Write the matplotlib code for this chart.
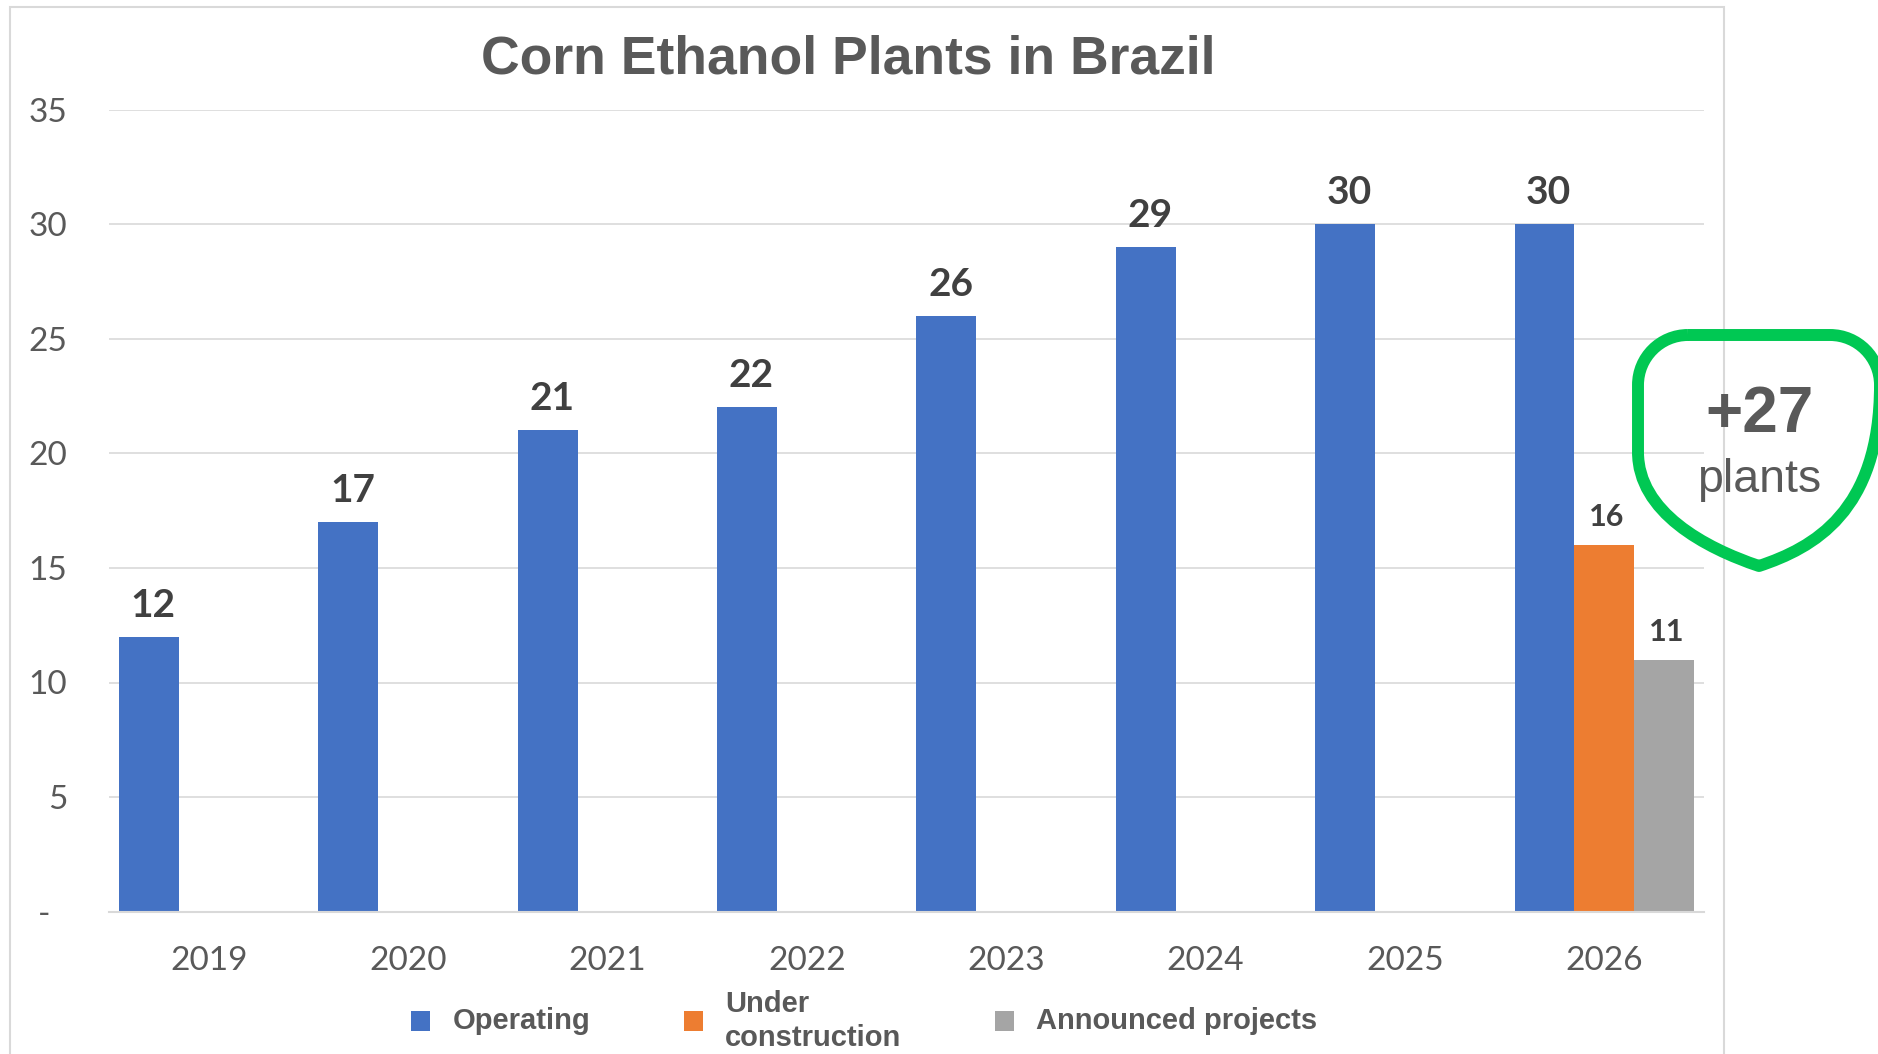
import matplotlib
matplotlib.use('Agg')
import matplotlib.pyplot as plt
from matplotlib.patches import PathPatch, Rectangle
from matplotlib.path import Path
import numpy as np

# ---------------- data ----------------
years = ['2019', '2020', '2021', '2022', '2023', '2024', '2025', '2026']
operating = [12, 17, 21, 22, 26, 29, 30, 30]
under_construction = [np.nan, np.nan, np.nan, np.nan, np.nan, np.nan, np.nan, 16]
announced = [np.nan, np.nan, np.nan, np.nan, np.nan, np.nan, np.nan, 11]
series_names = ['Operating', 'Under\nconstruction', 'Announced projects']
y_ticks = [0, 5, 10, 15, 20, 25, 30, 35]
y_tick_labels = ['-  ', '5', '10', '15', '20', '25', '30', '35']
title = 'Corn Ethanol Plants in Brazil'
badge_value = '+27'
badge_unit = 'plants'

# ---------------- style ----------------
W, H = 1878, 1054
C_BLUE, C_ORANGE, C_GRAY = '#4472C4', '#ED7D31', '#A5A5A5'
C_TEXT = '#595959'
C_LABEL = '#404040'
C_GRID = '#D9D9D9'
C_GREEN = '#00C853'

def fx(x):
    return x / W

def fy(y):
    return 1 - y / H

fig = plt.figure(figsize=(W / 100, H / 100), dpi=100)
fig.patch.set_facecolor('white')

ax_left, ax_right, ax_top, ax_bottom = 109, 1704, 109.5, 911.7
ax = fig.add_axes([fx(ax_left), fy(ax_bottom), (ax_right - ax_left) / W, (ax_bottom - ax_top) / H])

x = np.arange(len(years))
bw = 0.3
ax.bar(x - bw, operating, width=bw, color=C_BLUE, zorder=3, label=series_names[0])
ax.bar(x, under_construction, width=bw, color=C_ORANGE, zorder=3, label=series_names[1])
ax.bar(x + bw, announced, width=bw, color=C_GRAY, zorder=3, label=series_names[2])

for xi, v in zip(x - bw, operating):
    ax.annotate(f'{v:g}', (xi, v), xytext=(3, 14.4), textcoords='offset points',
                ha='center', va='baseline', fontsize=28, fontweight='bold',
                family='Lato', color=C_LABEL, zorder=4)
for off, vals in ((0, under_construction), (bw, announced)):
    for xi, v in zip(x + off, vals):
        if np.isnan(v):
            continue
        ax.annotate(f'{v:g}', (xi, v), xytext=(2, 13.7), textcoords='offset points',
                    ha='center', va='baseline', fontsize=22, fontweight='bold',
                    family='Lato', color=C_LABEL, zorder=4)

ax.set_xlim(-0.5, len(years) - 0.5)
ax.set_ylim(0, 35)
ax.set_yticks(y_ticks)
ax.set_yticklabels(y_tick_labels, family='Lato', fontsize=24, color=C_TEXT)
ax.set_xticks(x)
ax.set_xticklabels(years, family='Lato', fontsize=24, color=C_TEXT)
ax.tick_params(axis='y', length=0, pad=30)
ax.tick_params(axis='x', length=0, pad=24.5)
ax.grid(axis='y', color=C_GRID, linewidth=1.2, zorder=0)
ax.set_axisbelow(True)
for s in ('top', 'right', 'left'):
    ax.spines[s].set_visible(False)
ax.spines['bottom'].set_color(C_GRID)
ax.spines['bottom'].set_linewidth(1.5)
ax.spines['bottom'].set_zorder(5)

# title
fig.text(fx(848), fy(73), title, ha='center', va='baseline', fontsize=38.5,
         fontweight='bold', family='Liberation Sans', color=C_TEXT)

# outer border
fig.add_artist(Rectangle((fx(10), fy(1070)), (1724 - 10) / W, (1070 - 7) / H,
                         transform=fig.transFigure, fill=False, ec=C_GRID, lw=1.5))

# legend
leg = fig.legend(loc='center left', bbox_to_anchor=(fx(411), fy(1021)), ncol=3,
                 frameon=False, borderaxespad=0, borderpad=0,
                 handlelength=0.66, handleheight=0.66, handletextpad=0.76,
                 columnspacing=3.2,
                 prop={'family': 'Liberation Sans', 'weight': 'bold', 'size': 21})
for t in leg.get_texts():
    t.set_color(C_TEXT)
    t.set_linespacing(1.3)
leg._legend_handle_box.align = 'center'
for col in leg._legend_handle_box.get_children():
    col.align = 'left'
    for row in col.get_children():
        row.align = 'center'

# badge (shield shape)
L, R, T, B, cx = 1638, 1880, 335, 566, 1759
r = 50
k = 0.5523 * r
side_end = 452
pts = [
    (L + r, T), (R - r, T),
    (R - r + k, T), (R, T + r - k), (R, T + r),
    (R, side_end),
    (R, side_end + 60), (cx + 54, B - 18), (cx, B),
    (cx - 54, B - 18), (L, side_end + 60), (L, side_end),
    (L, T + r),
    (L, T + r - k), (L + r - k, T), (L + r, T),
]
codes = [Path.MOVETO, Path.LINETO,
         Path.CURVE4, Path.CURVE4, Path.CURVE4,
         Path.LINETO,
         Path.CURVE4, Path.CURVE4, Path.CURVE4,
         Path.CURVE4, Path.CURVE4, Path.CURVE4,
         Path.LINETO,
         Path.CURVE4, Path.CURVE4, Path.CURVE4]
path = Path([(fx(a), fy(b)) for a, b in pts], codes)
fig.add_artist(PathPatch(path, transform=fig.transFigure, fill=False,
                         ec=C_GREEN, lw=8.6, joinstyle='round'))
fig.text(fx(cx), fy(432), badge_value, ha='center', va='baseline', fontsize=46,
         fontweight='bold', family='Liberation Sans', color=C_TEXT)
fig.text(fx(cx), fy(492), badge_unit, ha='center', va='baseline', fontsize=33.5,
         family='Liberation Sans', color=C_TEXT)

fig.savefig('out.png', dpi=100, facecolor='white')
